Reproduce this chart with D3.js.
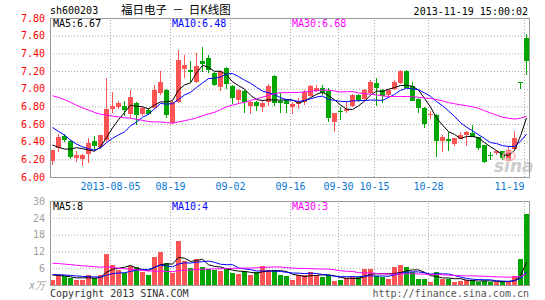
<!DOCTYPE html>
<html>
<head>
<meta charset="utf-8">
<style>
  body { margin: 0; background: #fff; }
  svg { display: block; font-family: 'DejaVu Sans Mono', monospace; font-size: 10px; }
</style>
</head>
<body>
<svg width="545" height="300"></svg>
<script src="https://d3js.org/d3.v7.min.js"></script>
<script>
// trading days shown (2013)
const dates = [
  '07-22','07-23','07-24','07-25','07-26','07-29','07-30','07-31','08-01','08-02',
  '08-05','08-06','08-07','08-08','08-09','08-12','08-13','08-14','08-15','08-16',
  '08-19','08-20','08-21','08-22','08-23','08-26','08-27','08-28','08-29','08-30',
  '09-02','09-03','09-04','09-05','09-06','09-09','09-10','09-11','09-12','09-13',
  '09-16','09-17','09-18','09-23','09-24','09-25','09-26','09-27',
  '09-30','10-08','10-09','10-10','10-11','10-14',
  '10-15','10-16','10-17','10-18','10-21','10-22','10-23','10-24','10-25',
  '10-28','10-29','10-30','10-31','11-01','11-04','11-05','11-06','11-07','11-08',
  '11-11','11-12','11-13','11-14','11-15','11-18','11-19'
];
const opens = [
  6.19,6.32,6.46,6.41,6.22,6.20,6.26,6.41,6.34,6.42,
  6.77,6.79,6.80,6.71,6.84,6.71,6.76,6.79,6.95,6.98,
  6.61,6.85,7.23,7.21,7.08,7.31,7.35,7.18,7.02,7.23,
  7.03,6.88,6.97,6.81,6.85,6.80,6.85,7.14,6.86,6.87,
  6.80,6.83,6.85,6.92,6.98,7.01,6.97,6.62,6.75,6.75,
  6.80,6.93,6.88,6.95,7.06,6.99,6.93,6.99,7.06,7.20,
  7.03,6.88,6.78,6.70,6.70,6.40,6.43,6.37,6.44,6.48,
  6.50,6.45,6.36,6.25,6.28,6.29,6.19,6.32,7.08,7.57
];
const highs = [
  6.31,6.49,6.49,6.42,6.29,6.26,6.44,6.46,6.48,7.12,
  6.96,6.86,6.86,6.99,6.85,6.79,6.78,7.04,7.20,7.00,
  6.86,7.44,7.38,7.31,7.40,7.47,7.38,7.19,7.20,7.24,
  7.04,7.00,6.98,6.86,6.86,6.87,7.05,7.15,6.95,6.88,
  6.85,6.89,6.99,7.04,7.04,7.04,7.01,6.72,6.79,6.85,
  6.94,6.94,7.00,7.10,7.12,7.00,7.00,7.10,7.21,7.21,
  7.08,6.89,6.79,6.75,6.71,6.47,6.51,6.44,6.51,6.52,
  6.59,6.45,6.36,6.28,6.31,6.29,6.35,6.52,7.08,7.62
];
const lows = [
  6.14,6.28,6.40,6.20,6.17,6.12,6.16,6.31,6.32,6.40,
  6.72,6.77,6.69,6.67,6.59,6.69,6.70,6.77,6.93,6.67,
  6.60,6.84,7.12,7.08,7.06,7.19,7.18,7.03,6.97,7.00,
  6.83,6.83,6.73,6.71,6.75,6.74,6.80,6.80,6.73,6.73,
  6.71,6.77,6.81,6.90,6.96,6.93,6.62,6.51,6.64,6.73,
  6.79,6.85,6.86,6.94,6.80,6.84,6.90,6.98,7.05,7.02,
  6.86,6.73,6.56,6.66,6.23,6.28,6.30,6.35,6.44,6.35,
  6.45,6.31,6.16,6.19,6.25,6.19,6.18,6.31,7.00,7.15
];
const closes = [
  6.31,6.45,6.42,6.23,6.25,6.25,6.38,6.35,6.48,6.77,
  6.80,6.84,6.76,6.90,6.70,6.78,6.71,6.99,7.07,6.70,
  6.85,7.32,7.27,7.19,7.26,7.28,7.21,7.04,7.20,7.05,
  6.89,6.99,6.85,6.85,6.80,6.84,7.03,6.84,6.84,6.82,
  6.83,6.85,6.96,7.03,7.01,6.95,6.66,6.72,6.74,6.77,
  6.93,6.87,6.98,7.08,7.00,6.92,6.99,7.07,7.20,7.01,
  6.86,6.78,6.60,6.71,6.40,6.45,6.41,6.44,6.48,6.51,
  6.46,6.33,6.17,6.24,6.30,6.21,6.31,6.44,7.07,7.31
];
// volume, x 10k
const volumes = [
  1.9,3.4,3.1,2.4,1.9,1.9,3.7,2.4,3.7,10.9,
  7.3,5.5,4.3,6.9,6.3,4.6,3.7,9.9,11.7,7.8,
  4.2,15.6,8.5,6.0,9.3,6.6,5.8,5.5,4.9,6.1,
  4.3,4.0,4.9,3.4,4.6,6.7,5.4,5.5,3.4,3.1,
  1.9,3.4,3.4,4.8,3.7,2.8,3.4,1.6,1.9,2.4,
  2.7,2.7,5.6,5.8,3.2,3.0,2.3,6.5,7.1,6.4,
  4.6,2.3,2.3,1.2,4.6,2.3,2.1,1.0,1.3,1.8,
  1.8,1.1,1.6,0.9,1.2,1.2,1.2,3.3,9.3,25.4
];
// the 29 sessions before the window, only used by the moving averages
const prevCloses = [7.05,7.12,7.18,7.22,7.15,7.10,7.16,7.12,7.08,7.10,7.14,7.06,7.02,7.08,7.12,
  7.15,7.10,7.05,6.98,7.01,6.90,6.85,6.78,6.70,6.57,6.58,6.52,6.23,6.17];
const prevVolumes = [7.5,9.0,8.2,7.8,8.5,8.0,7.6,8.3,7.95,12.5,14.0,11.0,10.5,12.8,11.6,
  10.2,12.0,11.2,10.8,6.55,4.5,3.8,4.2,3.6,3.9,4.1,3.7,4.3,3.76];

const priceTicks = [6.0,6.2,6.4,6.6,6.8,7.0,7.2,7.4,7.6,7.8];
const volTicks = [6,12,18,24,30];
const tickDates = ['08-05','08-19','09-02','09-16','09-30','10-15','10-28','11-19'];
const tickLabels = ['2013-08-05','08-19','09-02','09-16','09-30','10-15','10-28','11-19'];
const maPeriods = [5, 10, 30];
const maColors = ['#000000', '#0000ff', '#ff00ff'];

const code = 'sh600203';
const stockName = '福日电子';
const updateTime = '2013-11-19 15:00:02';

const RED = '#ff5454', GREEN = '#00a600', GRID = '#aaaaaa', BORDER = '#999999';
const L = 50, R = 530, mainTop = 18, mainBot = 177, volTop = 201, volBot = 285;
const n = dates.length;

let svg = d3.select('svg');

let x = d3.scaleLinear().domain([0, n]).range([L, R]);
let y = d3.scaleLinear().domain([6.0, 7.8]).range([mainBot, mainTop]);
let yv = d3.scaleLinear().domain([0, 30]).range([volBot, volTop]);

const up = i => closes[i] >= opens[i];
const colorOf = i => up(i) ? RED : GREEN;

function movingAvg(prev, vals, p) {
    let all = prev.concat(vals), off = prev.length;
    return vals.map((v, i) => d3.mean(all.slice(off + i - p + 1, off + i + 1)));
}

let defs = svg.append('defs');
defs.append('clipPath').attr('id', 'clipMain').append('rect')
    .attr('x', L).attr('y', mainTop).attr('width', R - L).attr('height', mainBot - mainTop);
defs.append('clipPath').attr('id', 'clipVol').append('rect')
    .attr('x', L).attr('y', volTop).attr('width', R - L).attr('height', volBot - volTop);

function styleAxis(g, color) {
    g.attr('font-family', "'DejaVu Sans Mono', monospace").attr('font-size', 10);
    g.select('.domain').remove();
    g.selectAll('line').attr('stroke', GRID).attr('stroke-dasharray', '1,2');
    g.selectAll('text').attr('fill', color);
}

// price grid + labels
let gy = svg.append('g').attr('transform', `translate(${L},0)`)
    .call(d3.axisLeft(y).tickValues(priceTicks).tickSize(-(R - L)).tickPadding(5).tickFormat(d3.format('.2f')));
styleAxis(gy, '#ff0000');
gy.selectAll('.tick').filter(d => d === 6.0 || d === 7.8).select('line').remove();

// date grid + labels
let tickIdx = tickDates.map(d => dates.indexOf(d));
let gx = svg.append('g').attr('transform', `translate(0,${mainBot})`)
    .call(d3.axisBottom(x).tickValues(tickIdx).tickSize(-(mainBot - mainTop)).tickPadding(6)
        .tickFormat((d, i) => tickLabels[i]));
styleAxis(gx, '#0a78d2');
gx.selectAll('.tick').filter(d => d === n - 1).select('text').attr('text-anchor', 'end');

// volume grid + labels
let gyv = svg.append('g').attr('transform', `translate(${L},0)`)
    .call(d3.axisLeft(yv).tickValues(volTicks).tickSize(-(R - L)).tickPadding(5));
styleAxis(gyv, '#a0a0a0');
gyv.selectAll('.tick').filter(d => d === 30).select('line').remove();

let gxv = svg.append('g').attr('transform', `translate(0,${volBot})`)
    .call(d3.axisBottom(x).tickValues(tickIdx).tickSize(-(volBot - volTop)).tickFormat(''));
styleAxis(gxv, 'none');

svg.append('text').attr('x', 45).attr('y', 289).attr('text-anchor', 'end')
    .attr('fill', '#a0a0a0').attr('font-style', 'italic').text('x万');

// candles
let main = svg.append('g').attr('clip-path', 'url(#clipMain)');
main.selectAll('.wick').data(d3.range(n)).join('line')
    .attr('class', 'wick')
    .attr('x1', i => x(i) + 2.5).attr('x2', i => x(i) + 2.5)
    .attr('y1', i => Math.round(y(highs[i]))).attr('y2', i => Math.round(y(lows[i])))
    .attr('stroke', colorOf).attr('shape-rendering', 'crispEdges');
main.selectAll('.body').data(d3.range(n)).join('rect')
    .attr('class', 'body')
    .attr('x', i => x(i)).attr('width', 5)
    .attr('y', i => Math.round(y(Math.max(opens[i], closes[i]))))
    .attr('height', i => Math.max(1, Math.round(Math.abs(y(opens[i]) - y(closes[i])))))
    .attr('fill', colorOf).attr('shape-rendering', 'crispEdges');

// watermark
svg.append('ellipse').attr('cx', 509).attr('cy', 156).attr('rx', 6).attr('ry', 4.5)
    .attr('fill', 'none').attr('stroke', '#f4b0b0').attr('stroke-width', 2).attr('opacity', 0.8);
svg.append('text').attr('x', 494).attr('y', 172).attr('font-family', 'DejaVu Sans')
    .attr('font-size', 17).attr('font-weight', 'bold').attr('font-style', 'italic')
    .attr('fill', '#c4c4c4').attr('opacity', 0.85).text('sina');

// price moving averages
let priceMA = maPeriods.map(p => movingAvg(prevCloses, closes, p));
let line = d3.line().x((d, i) => x(i) + 2.5).y(d => y(d));
main.selectAll('.ma').data(priceMA).join('path')
    .attr('class', 'ma').attr('d', line).attr('fill', 'none')
    .attr('stroke', (d, k) => maColors[k]).attr('stroke-width', 1);

// volume bars
let vol = svg.append('g').attr('clip-path', 'url(#clipVol)');
vol.selectAll('rect').data(d3.range(n)).join('rect')
    .attr('x', i => x(i)).attr('width', 5)
    .attr('y', i => Math.round(yv(volumes[i])))
    .attr('height', i => volBot - Math.round(yv(volumes[i])))
    .attr('fill', colorOf).attr('shape-rendering', 'crispEdges');

let volMA = maPeriods.map(p => movingAvg(prevVolumes, volumes, p));
let vline = d3.line().x((d, i) => x(i) + 2.5).y(d => yv(d));
vol.selectAll('.ma').data(volMA).join('path')
    .attr('class', 'ma').attr('d', vline).attr('fill', 'none')
    .attr('stroke', (d, k) => maColors[k]).attr('stroke-width', 1);

// panel borders
[[mainTop, mainBot], [volTop, volBot]].forEach(([t, b]) => {
    svg.append('rect').attr('x', L + 0.5).attr('y', t + 0.5).attr('width', R - L - 1).attr('height', b - t)
        .attr('fill', 'none').attr('stroke', BORDER);
});

// legends
const legendX = [53, 172, 292];
priceMA.forEach((m, k) => {
    svg.append('text').attr('x', legendX[k]).attr('y', 27).attr('fill', maColors[k])
        .text(`MA${maPeriods[k]}:${m[n - 1].toFixed(2)}`);
});
volMA.forEach((m, k) => {
    svg.append('text').attr('x', legendX[k]).attr('y', 210).attr('fill', maColors[k])
        .text(`MA${maPeriods[k]}:${Math.floor(m[n - 1])}`);
});

// header and footer
svg.append('text').attr('x', 50).attr('y', 14).attr('fill', '#000').text(code);
svg.append('text').attr('x', 121).attr('y', 14).attr('fill', '#000')
    .attr('font-family', "'Noto Sans CJK SC'").attr('font-size', 11.5)
    .attr('xml:space', 'preserve').text(`${stockName}  －  日K线图`);
svg.append('text').attr('x', 528).attr('y', 15).attr('text-anchor', 'end').attr('fill', '#000').text(updateTime);
svg.append('text').attr('x', 50).attr('y', 297).attr('fill', '#333').text('Copyright 2013 SINA.COM');
svg.append('text').attr('x', 529).attr('y', 297).attr('text-anchor', 'end').attr('fill', '#555')
    .text('http://finance.sina.com.cn');
</script>
</body>
</html>
